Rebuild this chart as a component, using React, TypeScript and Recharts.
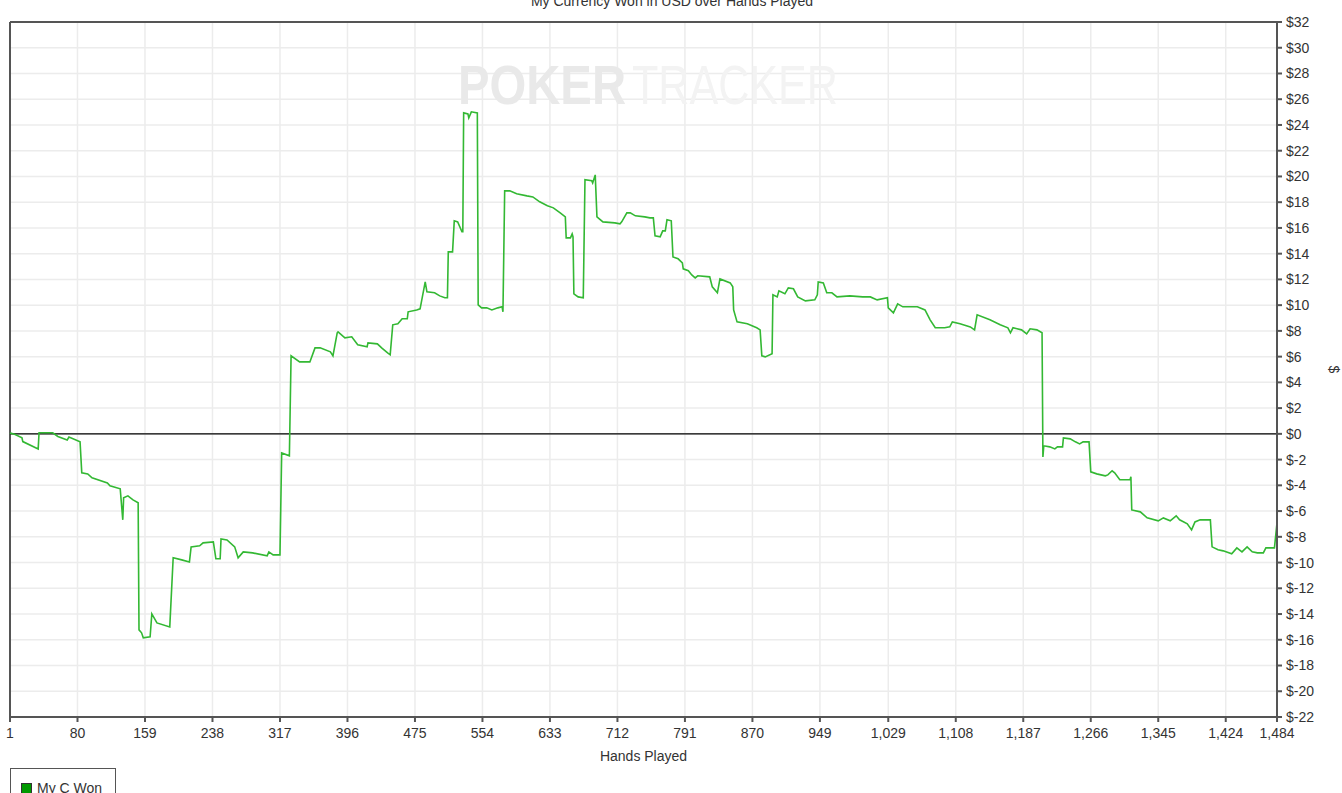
import { LineChart, Line, XAxis, YAxis, CartesianGrid, ReferenceLine, Legend, Customized } from 'recharts'

// hands played (x) and cumulative USD won (y)
const hands = [
  1, 2, 7, 15, 16, 34, 35, 51, 57, 68, 70, 83, 85, 92, 97, 115, 118, 130, 133, 134,
  139, 145, 151, 152, 155, 157, 165, 167, 173, 188, 192, 202, 211, 213, 223, 227, 239, 242, 247, 248,
  255, 264, 268, 274, 285, 302, 304, 309, 317, 319, 328, 330, 340, 352, 358, 364, 376, 379, 384, 385,
  393, 401, 408, 419, 420, 431, 436, 443, 446, 449, 455, 460, 466, 467, 477, 481, 483, 487, 489, 498,
  504, 510, 513, 514, 519, 521, 525, 530, 531, 532, 537, 538, 541, 548, 549, 553, 559, 565, 572, 577,
  578, 580, 586, 594, 606, 613, 621, 630, 637, 645, 651, 652, 657, 659, 660, 661, 666, 672, 674, 682,
  683, 686, 688, 695, 709, 715, 717, 723, 727, 733, 744, 750, 754, 756, 762, 765, 768, 770, 775, 777,
  783, 788, 789, 795, 799, 803, 806, 820, 823, 829, 832, 844, 847, 848, 852, 864, 875, 879, 881, 885,
  893, 894, 899, 901, 908, 912, 918, 923, 932, 943, 946, 947, 953, 957, 963, 969, 984, 999, 1008, 1016,
  1028, 1029, 1035, 1040, 1046, 1063, 1072, 1078, 1084, 1095, 1101, 1104, 1113, 1125, 1130, 1133, 1148, 1160, 1169, 1172,
  1175, 1185, 1191, 1195, 1203, 1209, 1210, 1211, 1218, 1224, 1227, 1233, 1234, 1242, 1248, 1253, 1257, 1264, 1266, 1273,
  1283, 1286, 1291, 1294, 1300, 1312, 1313, 1314, 1324, 1332, 1345, 1351, 1359, 1366, 1370, 1379, 1384, 1388, 1394, 1406,
  1408, 1415, 1421, 1431, 1437, 1443, 1449, 1455, 1461, 1468, 1471, 1481, 1484,
]

const won = [
  0, 0.05, -0.05, -0.3, -0.6, -1.17, 0.08, 0.08, -0.2, -0.47, -0.25, -0.62, -3.03, -3.11, -3.42, -3.81, -4.04, -4.27, -6.68, -4.97,
  -4.82, -5.13, -5.36, -15.23, -15.46, -15.85, -15.77, -13.99, -14.69, -15.0, -9.63, -9.79, -9.95, -8.78, -8.7, -8.47, -8.39, -9.71, -9.71, -8.16,
  -8.24, -8.78, -9.63, -9.17, -9.25, -9.48, -9.17, -9.4, -9.4, -1.48, -1.71, 6.06, 5.59, 5.59, 6.68, 6.68, 6.37, 6.06, 7.85, 7.93,
  7.46, 7.54, 6.92, 6.76, 7.07, 6.99, 6.68, 6.29, 6.14, 8.47, 8.55, 8.94, 8.94, 9.48, 9.63, 9.71, 10.41, 11.81, 11.03, 10.96,
  10.72, 10.57, 10.57, 14.14, 14.14, 16.55, 16.47, 15.7, 15.7, 24.94, 24.86, 24.55, 25.02, 24.94, 10.02, 9.79, 9.79, 9.63, 9.79, 9.87,
  9.48, 18.88, 18.88, 18.65, 18.49, 18.41, 18.03, 17.72, 17.56, 17.17, 16.86, 15.23, 15.23, 15.54, 15.31, 10.88, 10.64, 10.57, 19.74, 19.66,
  19.5, 20.12, 16.86, 16.47, 16.39, 16.32, 16.47, 17.17, 17.17, 16.94, 16.86, 16.78, 16.78, 15.38, 15.31, 15.77, 15.77, 16.63, 16.55, 13.75,
  13.6, 13.29, 12.82, 12.67, 12.35, 12.12, 12.28, 12.2, 11.42, 10.96, 12.04, 11.73, 11.42, 9.63, 8.7, 8.55, 8.24, 8.08, 6.06, 5.98,
  6.22, 10.8, 10.64, 11.11, 10.88, 11.34, 11.27, 10.64, 10.33, 10.41, 10.8, 11.81, 11.73, 10.96, 10.96, 10.64, 10.72, 10.64, 10.64, 10.41,
  10.57, 9.79, 9.4, 10.1, 9.87, 9.87, 9.63, 8.86, 8.24, 8.24, 8.31, 8.7, 8.55, 8.31, 8.08, 9.25, 8.86, 8.47, 8.24, 7.85,
  8.24, 8.08, 7.77, 8.16, 8.08, 7.85, -1.79, -0.93, -1.01, -1.17, -1.01, -1.01, -0.31, -0.39, -0.62, -0.78, -0.62, -0.62, -2.95, -3.11,
  -3.26, -3.19, -2.87, -3.03, -3.57, -3.57, -3.34, -5.91, -6.06, -6.53, -6.76, -6.53, -6.76, -6.37, -6.68, -6.99, -7.46, -6.84, -6.68, -6.68,
  -8.78, -9.01, -9.09, -9.32, -8.86, -9.17, -8.78, -9.17, -9.25, -9.25, -8.86, -8.86, -6.92,
]

const xTicks = [1, 80, 159, 238, 317, 396, 475, 554, 633, 712, 791, 870, 949, 1029, 1108, 1187, 1266, 1345, 1424, 1484]
const yTicks = [-22, -20, -18, -16, -14, -12, -10, -8, -6, -4, -2, 0, 2, 4, 6, 8, 10, 12, 14, 16, 18, 20, 22, 24, 26, 28, 30, 32]

const FONT = '"Liberation Sans", Arial, sans-serif'
const TEXT = '#333'
const AXIS = '#555'
const LINE_GREEN = '#33b833'

const chartData = hands.map((h, i) => ({ hand: h, won: won[i] }))

function Watermark() {
  return (
    <g style={{ pointerEvents: 'none' }}>
      <text x={458} y={104} fontFamily={FONT} fontWeight="bold" fontSize={56} fill="#e9e9e9" textLength={168} lengthAdjust="spacingAndGlyphs">
        POKER
      </text>
      <text x={632} y={104} fontFamily={FONT} fontSize={56} fill="#f3f3f3" textLength={206} lengthAdjust="spacingAndGlyphs">
        TRACKER
      </text>
    </g>
  )
}

function Title() {
  return (
    <text x={672} y={6} textAnchor="middle" fontFamily={FONT} fontSize={14} fill={TEXT}>
      My Currency Won in USD over Hands Played
    </text>
  )
}

function LegendBox() {
  return (
    <div style={{ border: `1px solid ${AXIS}`, padding: '11px 10px 6px 10px', display: 'flex', alignItems: 'center', fontFamily: FONT, fontSize: 14, color: TEXT, background: '#fff', width: 84 }}>
      <span style={{ display: 'inline-block', width: 9, height: 9, background: '#009900', border: '1px solid #333', marginRight: 5 }} />
      My C Won
    </div>
  )
}

export default function App() {
  return (
    <div style={{ position: 'absolute', left: 0, top: 0, width: 1342, height: 793, background: '#fff', overflow: 'hidden' }}>
      <LineChart width={1342} height={793} data={chartData} margin={{ top: 22, right: 0, left: 10, bottom: 0 }}>
        <Customized component={Watermark} />
        <CartesianGrid stroke="#ececec" strokeWidth={1.5} />
        <XAxis
          type="number"
          dataKey="hand"
          domain={[1, 1484]}
          ticks={xTicks}
          interval={0}
          height={76}
          tickFormatter={(v: number) => v.toLocaleString('en-US')}
          tick={{ fontSize: 14, fill: TEXT, fontFamily: FONT }}
          tickSize={5}
          tickMargin={6}
          stroke={AXIS}
          strokeWidth={2}
          label={{ value: 'Hands Played', position: 'insideTop', offset: 34, fontSize: 14, fill: TEXT, fontFamily: FONT }}
        />
        <YAxis
          orientation="right"
          type="number"
          domain={[-22, 32]}
          ticks={yTicks}
          interval={0}
          width={65}
          tickFormatter={(v: number) => '$' + v}
          tick={{ fontSize: 14, fill: TEXT, fontFamily: FONT }}
          tickSize={5}
          tickMargin={4}
          stroke={AXIS}
          strokeWidth={2}
          label={{ value: '$', angle: 90, position: 'center', dx: 24, fontSize: 14, fill: TEXT, fontFamily: FONT }}
        />
        <ReferenceLine y={32} stroke={AXIS} strokeWidth={2} />
        <ReferenceLine x={1} stroke={AXIS} strokeWidth={2} />
        <ReferenceLine y={0} stroke="#000" strokeWidth={1.2} />
        <Line
          type="linear"
          dataKey="won"
          name="My C Won"
          stroke={LINE_GREEN}
          strokeWidth={1.6}
          dot={false}
          isAnimationActive={false}
        />
        <Legend
          layout="vertical"
          align="center"
          verticalAlign="middle"
          wrapperStyle={{ left: 10, top: 768, width: 'auto', height: 'auto' }}
          content={() => <LegendBox />}
        />
        <Customized component={Title} />
      </LineChart>
    </div>
  )
}
